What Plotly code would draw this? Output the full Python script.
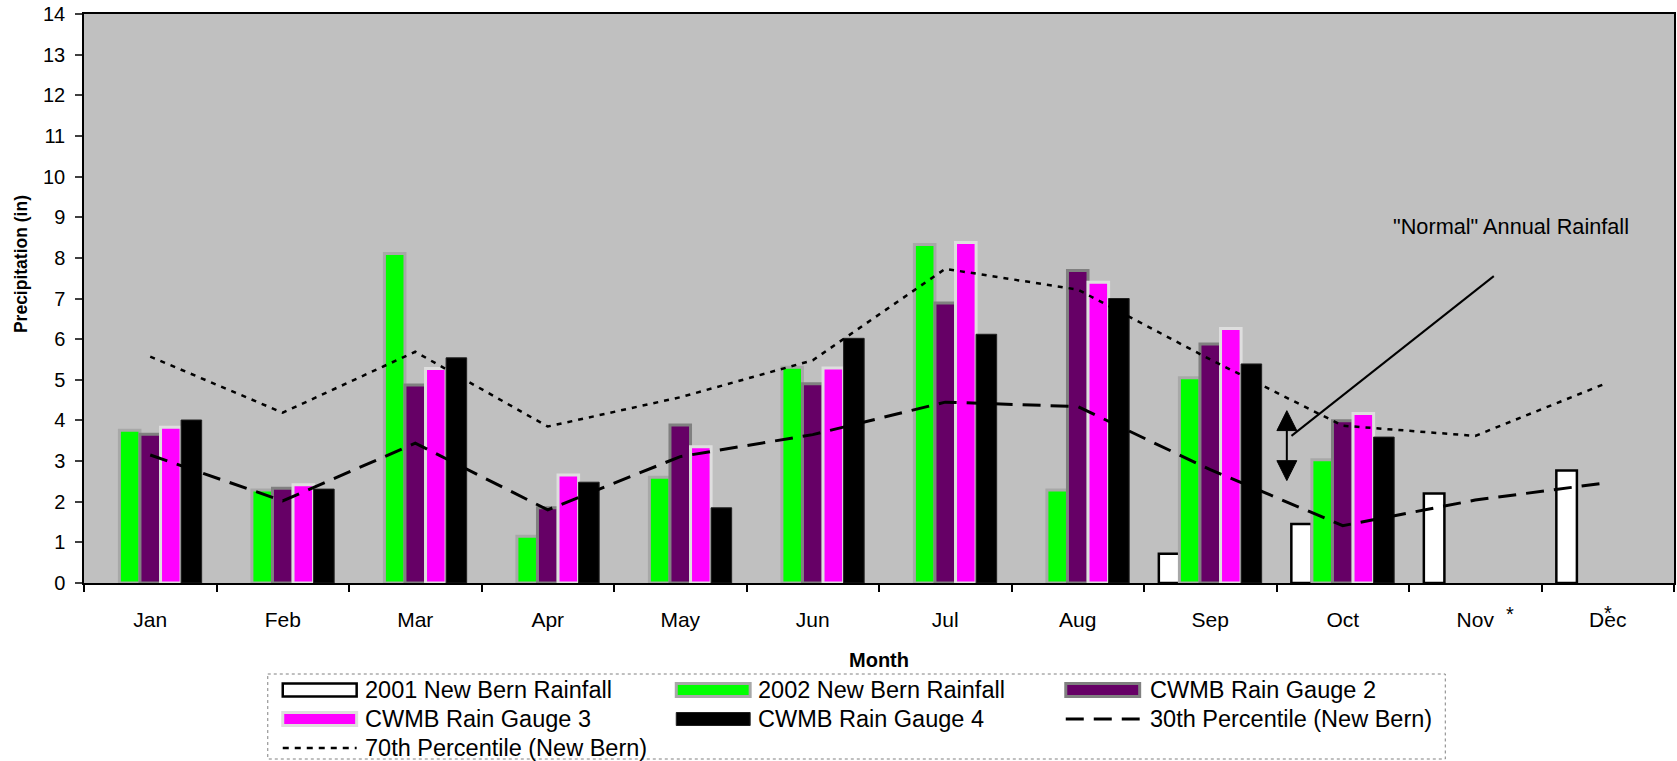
import plotly.graph_objects as go

# ---------------- data ----------------
months = ["Jan", "Feb", "Mar", "Apr", "May", "Jun", "Jul", "Aug", "Sep", "Oct", "Nov", "Dec"]
nb_2001 = [None, None, None, None, None, None, None, None, 0.72, 1.45, 2.20, 2.77]
nb_2002 = [3.76, 2.29, 8.11, 1.15, 2.60, 5.31, 8.33, 2.29, 5.05, 3.03, None, None]
gauge2 = [3.66, 2.33, 4.87, 1.85, 3.89, 4.90, 6.89, 7.69, 5.88, 3.99, None, None]
gauge3 = [3.83, 2.42, 5.28, 2.66, 3.35, 5.29, 8.38, 7.40, 6.26, 4.17, None, None]
gauge4 = [4.01, 2.31, 5.54, 2.48, 1.85, 6.02, 6.12, 7.00, 5.39, 3.59, None, None]
pct30 = [3.15, 2.02, 3.44, 1.80, 3.11, 3.65, 4.45, 4.34, 2.79, 1.41, 2.04, 2.47]
pct70 = [5.57, 4.19, 5.69, 3.85, 4.57, 5.48, 7.73, 7.22, 5.50, 3.87, 3.62, 4.93]
y_ticks = list(range(0, 15))

# ---------------- geometry ----------------
W, H = 1677, 761
ML, MR, MT, MB = 84, 1, 14, 178
FONT = "Arial, Liberation Sans, sans-serif"


def pxx(p):
    return (p - ML) / (W - ML - MR)


def pxy(p):
    return (H - MB - p) / (H - MT - MB)


bar_styles = [
    ("2001 New Bern Rainfall", nb_2001, "#FFFFFF", "#000000", 2.5),
    ("2002 New Bern Rainfall", nb_2002, "#00FF00", "#a8a8a8", 3),
    ("CWMB Rain Gauge 2", gauge2, "#660066", "#808080", 3),
    ("CWMB Rain Gauge 3", gauge3, "#FF00FF", "#dedede", 3),
    ("CWMB Rain Gauge 4", gauge4, "#000000", "#202020", 1),
]

fig = go.Figure()
for name, vals, fill, edge, lw in bar_styles:
    fig.add_trace(go.Bar(x=months, y=vals, name=name, showlegend=False,
                         marker=dict(color=fill, line=dict(color=edge, width=lw))))

fig.add_trace(go.Scatter(x=months, y=pct30, mode="lines", name="30th Percentile (New Bern)",
                         showlegend=False, line=dict(color="black", width=3, dash="18px,10px")))
fig.add_trace(go.Scatter(x=months, y=pct70, mode="lines", name="70th Percentile (New Bern)",
                         showlegend=False, line=dict(color="black", width=2.5, dash="5px,6px")))

shapes = []
annotations = []

# "Normal" annual rainfall pointer and double arrow
shapes.append(dict(type="line", xref="x", yref="y", x0=8.613, y0=3.62, x1=10.14, y1=7.55,
                   line=dict(color="black", width=2)))
shapes.append(dict(type="line", xref="x", yref="y", x0=8.578, y0=3.75, x1=8.578, y1=3.01,
                   line=dict(color="black", width=2)))
shapes.append(dict(type="path", xref="x", yref="y",
                   path="M 8.578,4.24 L 8.503,3.75 L 8.653,3.75 Z",
                   fillcolor="black", line=dict(color="black", width=1)))
shapes.append(dict(type="path", xref="x", yref="y",
                   path="M 8.578,2.52 L 8.503,3.01 L 8.653,3.01 Z",
                   fillcolor="black", line=dict(color="black", width=1)))
annotations.append(dict(text='"Normal" Annual Rainfall', xref="x", yref="y", x=10.27, y=8.78,
                        xanchor="center", yanchor="middle",
                        showarrow=False, font=dict(size=21.7, color="black", family=FONT)))

# asterisks near Nov / Dec labels
annotations.append(dict(text="*", xref="x", yref="paper", x=10.26, y=pxy(614),
                        xanchor="center", yanchor="middle",
                        showarrow=False, font=dict(size=20, color="black", family=FONT)))
annotations.append(dict(text="*", xref="x", yref="paper", x=11.0, y=pxy(612.5),
                        xanchor="center", yanchor="middle",
                        showarrow=False, font=dict(size=20, color="black", family=FONT)))

# axis titles
annotations.append(dict(text="<b>Precipitation (in)</b>", xref="paper", yref="paper",
                        x=pxx(21), y=pxy(264), textangle=-90, showarrow=False,
                        xanchor="center", yanchor="middle",
                        font=dict(size=17.5, color="black", family=FONT)))
annotations.append(dict(text="<b>Month</b>", xref="paper", yref="paper",
                        x=pxx(880), y=pxy(660), showarrow=False,
                        xanchor="center", yanchor="middle",
                        font=dict(size=20, color="black", family=FONT)))

# ---------------- custom legend ----------------
shapes.append(dict(type="rect", xref="paper", yref="paper",
                   x0=pxx(268), x1=pxx(1447), y0=pxy(674), y1=pxy(759),
                   line=dict(color="#808080", width=1, dash="dot"), fillcolor="white", layer="below"))
rows = [690, 719, 748]
sym_x = [283, 677, 1067]
txt_x = [363, 757, 1149]
legend_items = [
    (0, 0, "rect", bar_styles[0]),
    (0, 1, "rect", bar_styles[1]),
    (0, 2, "rect", bar_styles[2]),
    (1, 0, "rect", bar_styles[3]),
    (1, 1, "rect", bar_styles[4]),
    (1, 2, "line", ("30th Percentile (New Bern)", None, None, "black", 3, "18px,10px")),
    (2, 0, "line", ("70th Percentile (New Bern)", None, None, "black", 2.5, "6px,6px")),
]
for r, c, kind, st in legend_items:
    yc = rows[r]
    x0 = sym_x[c]
    x1 = x0 + 74
    if kind == "rect":
        name, _, fill, edge, lw = st
        shapes.append(dict(type="rect", xref="paper", yref="paper",
                           x0=pxx(x0), x1=pxx(x1), y0=pxy(yc - 6.5), y1=pxy(yc + 6.5),
                           fillcolor=fill, line=dict(color=edge, width=lw)))
    else:
        name, _, _, col, lw, dash = st
        shapes.append(dict(type="line", xref="paper", yref="paper",
                           x0=pxx(x0), x1=pxx(x1), y0=pxy(yc), y1=pxy(yc),
                           line=dict(color=col, width=lw, dash=dash)))
    annotations.append(dict(text=name, xref="paper", yref="paper", x=pxx(txt_x[c]), y=pxy(yc),
                            xanchor="left", yanchor="middle", showarrow=False,
                            font=dict(size=23.5, color="black", family=FONT)))

fig.update_layout(
    width=W, height=H,
    margin=dict(l=ML, r=MR, t=MT, b=MB, pad=0),
    paper_bgcolor="white", plot_bgcolor="#C0C0C0",
    barmode="group", bargap=0.224, bargroupgap=0,
    showlegend=False,
    font=dict(family=FONT, color="black"),
    shapes=shapes, annotations=annotations,
    xaxis=dict(type="category", categoryorder="array", categoryarray=months,
               tickson="boundaries", ticks="outside", ticklen=7, tickwidth=1.5, tickcolor="black",
               showline=True, linecolor="black", linewidth=1.5, mirror=True,
               showgrid=False, tickfont=dict(size=21, color="black", family=FONT),
               ticklabelstandoff=17),
    yaxis=dict(range=[0, 14], tickmode="array", tickvals=y_ticks, ticks="outside", ticklen=7,
               tickwidth=1.5, tickcolor="#404040", showline=True, linecolor="black", linewidth=1.5,
               mirror=True, showgrid=False, zeroline=False,
               tickfont=dict(size=20, color="black", family=FONT), ticklabelstandoff=6),
)

fig.write_html("out.html", config={"displayModeBar": False},
               post_script="document.body.style.margin='0';document.body.style.overflow='hidden';")
